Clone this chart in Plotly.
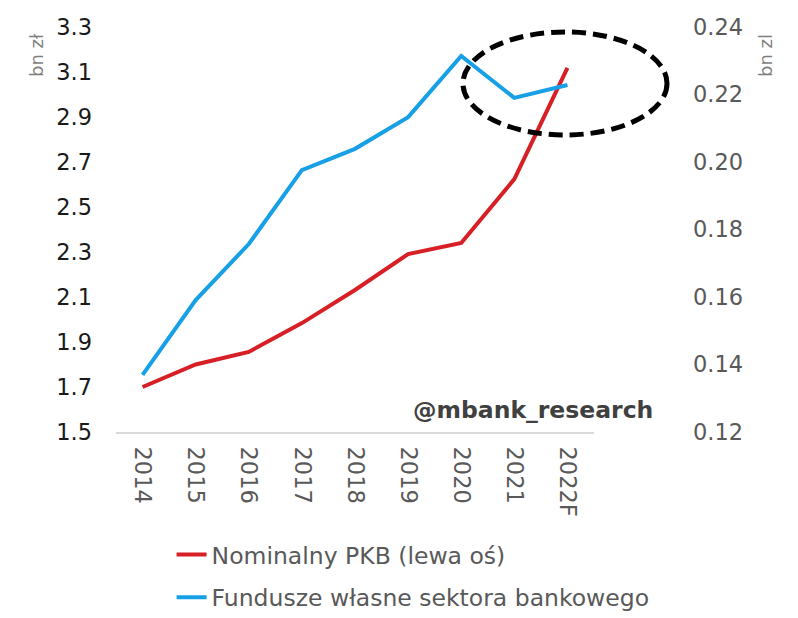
import plotly.graph_objects as go

years = ["2014", "2015", "2016", "2017", "2018", "2019", "2020", "2021", "2022F"]
pkb = [1.70, 1.80, 1.856, 1.984, 2.131, 2.291, 2.34, 2.624, 3.118]
fundusze = [0.1369, 0.1591, 0.1757, 0.1976, 0.2039, 0.2133, 0.2314, 0.219, 0.2228]
left_ticks = [1.5, 1.7, 1.9, 2.1, 2.3, 2.5, 2.7, 2.9, 3.1, 3.3]
right_ticks = [0.12, 0.14, 0.16, 0.18, 0.20, 0.22, 0.24]

FONT = "DejaVu Sans"
RED = "#D71F26"
BLUE = "#17A0E5"

fig = go.Figure()
fig.add_trace(go.Scatter(x=years, y=pkb, mode="lines", name="Nominalny PKB (lewa oś)",
                         line=dict(color=RED, width=4), legendgroup="a"))
fig.add_trace(go.Scatter(x=years, y=fundusze, mode="lines", name="Fundusze własne sektora bankowego",
                         line=dict(color=BLUE, width=4), yaxis="y2", legendgroup="b"))

fig.update_layout(
    width=790, height=610,
    margin=dict(l=108, r=204, t=19, b=186, autoexpand=False),
    paper_bgcolor="white", plot_bgcolor="white",
    font=dict(family=FONT, size=22, color="#595959"),
    xaxis=dict(type="category", range=[-0.5, 8.5], tickangle=90, showgrid=False, automargin=False,
               showline=True, linecolor="#D9D9D9", linewidth=2, ticks="",
               tickfont=dict(size=22.5, color="#595959"), ticklabelstandoff=8),
    yaxis=dict(range=[1.5, 3.3], tickvals=left_ticks, ticktext=[f"{v:.1f}" for v in left_ticks],
               showgrid=False, zeroline=False, showline=False, ticks="", automargin=False,
               tickfont=dict(size=22.5, color="#1a1a1a"), ticklabelstandoff=23),
    yaxis2=dict(range=[0.12, 0.24], tickvals=right_ticks, ticktext=[f"{v:.2f}" for v in right_ticks],
                overlaying="y", side="right", showgrid=False, zeroline=False, showline=False, ticks="",
                automargin=False,
                tickfont=dict(size=22.5, color="#595959"), ticklabelstandoff=98),
    legend=dict(x=0.1163, y=-0.249, xanchor="left", yanchor="top", orientation="v",
                traceorder="grouped", tracegroupgap=9,
                font=dict(size=23.5, color="#595959"), bgcolor="rgba(0,0,0,0)"),
    showlegend=True,
)

fig.add_annotation(text="bn zł", xref="paper", yref="paper", x=(37 - 116) / 478, y=(432 - 55) / 405,
                   xanchor="center", yanchor="middle", textangle=-90, showarrow=False,
                   font=dict(size=18, color="#7F7F7F", family=FONT))
fig.add_annotation(text="bn zl", xref="paper", yref="paper", x=(765 - 116) / 478, y=(432 - 56) / 405,
                   xanchor="center", yanchor="middle", textangle=-90, showarrow=False,
                   font=dict(size=18, color="#7F7F7F", family=FONT))

fig.add_annotation(text="<b>@mbank_research</b>", xref="paper", yref="paper",
                   x=(655 - 116) / 478, y=(432 - 410) / 405, xanchor="right", yanchor="middle",
                   showarrow=False, font=dict(size=23.5, color="#404040", family=FONT))

fig.add_shape(type="circle", xref="paper", yref="paper",
              x0=(463 - 116) / 478, x1=(667 - 116) / 478,
              y0=(432 - 135) / 405, y1=(432 - 32) / 405,
              line=dict(color="black", width=5, dash="14px,7px"))

fig.write_html("out.html")
